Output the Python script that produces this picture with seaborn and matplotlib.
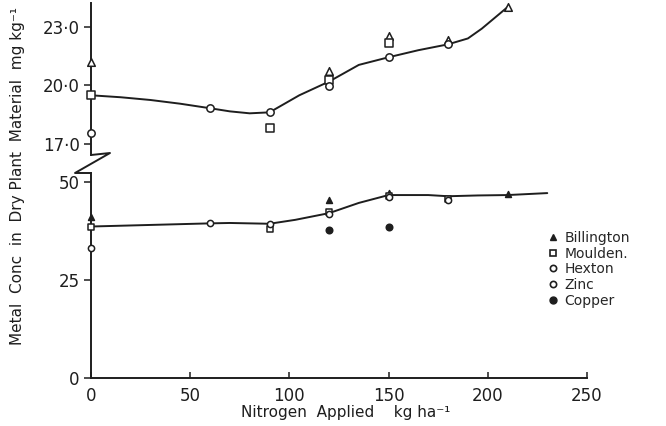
import seaborn as sns
import matplotlib.pyplot as plt
import pandas as pd
from matplotlib.lines import Line2D

# ---- data ----
# upper panel (broken axis, 17-23 scale)
bil_up_x = [0, 120, 150, 180, 210]
bil_up_y = [21.2, 20.75, 22.5, 22.3, 24.0]
mou_up_x = [0, 90, 120, 150]
mou_up_y = [19.5, 17.85, 20.3, 22.15]
hex_up_x = [0, 60, 90, 120, 150, 180]
hex_up_y = [17.6, 18.85, 18.63, 19.95, 21.45, 22.1]
curve_up_x = [0, 15, 30, 45, 60, 70, 80, 90, 105, 120, 135, 150, 165, 180, 190, 197, 210]
curve_up_y = [19.5, 19.4, 19.26, 19.07, 18.84, 18.68, 18.58, 18.63, 19.5, 20.2, 21.05, 21.44, 21.8, 22.1, 22.4, 22.9, 24.0]

# lower panel (0-50 scale)
bil_lo_x = [0, 120, 150, 210]
bil_lo_y = [41.0, 45.4, 47.2, 46.8]
mou_lo_x = [0, 90, 120, 150, 180]
mou_lo_y = [38.6, 38.0, 42.2, 46.4, 45.7]
hex_lo_x = [0, 60, 90, 120, 150, 180]
hex_lo_y = [33.1, 39.4, 39.2, 41.8, 46.0, 45.3]
cop_lo_x = [120, 150]
cop_lo_y = [37.6, 38.6]
curve_lo_x = [0, 60, 70, 90, 103, 120, 135, 150, 170, 180, 195, 210, 230]
curve_lo_y = [38.6, 39.4, 39.5, 39.3, 40.3, 42.0, 44.6, 46.6, 46.6, 46.3, 46.5, 46.6, 47.1]

sns.set_style("ticks")
plt.rcParams['font.family'] = ['DejaVu Sans']
ink = '#1e1e1e'

fig = plt.figure(figsize=(6.66, 4.26), dpi=100)
ax_up = fig.add_axes([0.1366, 0.6362, 0.7447, 0.3568])
ax_lo = fig.add_axes([0.1366, 0.1120, 0.7447, 0.4819])


def draw_panel(ax, cx, cy, sets):
    sns.lineplot(x=cx, y=cy, ax=ax, color=ink, lw=1.4, sort=False, estimator=None, zorder=2)
    for xs, ys, mk, face, size in sets:
        df = pd.DataFrame({'x': xs, 'y': ys})
        sns.scatterplot(data=df, x='x', y='y', ax=ax, marker=mk, s=size,
                        facecolor=face, edgecolor=ink, linewidth=1.1, zorder=3, clip_on=False)


draw_panel(ax_up, curve_up_x, curve_up_y, [
    (bil_up_x, bil_up_y, '^', 'white', 30),
    (mou_up_x, mou_up_y, 's', 'white', 26),
    (hex_up_x, hex_up_y, 'o', 'white', 28),
])
draw_panel(ax_lo, curve_lo_x, curve_lo_y, [
    (bil_lo_x, bil_lo_y, '^', ink, 18),
    (mou_lo_x, mou_lo_y, 's', 'white', 18),
    (hex_lo_x, hex_lo_y, 'o', 'white', 20),
    (cop_lo_x, cop_lo_y, 'o', ink, 22),
])

ax_up.set_xlim(0, 250)
ax_up.set_ylim(16.455, 24.209)
ax_up.set_yticks([17, 20, 23])
ax_up.set_yticklabels(['17·0', '20·0', '23·0'])
ax_up.set_xticks([])
for s in ['top', 'right', 'bottom']:
    ax_up.spines[s].set_visible(False)

ax_lo.set_xlim(0, 250)
ax_lo.set_ylim(0, 52.21)
ax_lo.set_yticks([0, 25, 50])
ax_lo.set_xticks([0, 50, 100, 150, 200, 250])
for s in ['top', 'right']:
    ax_lo.spines[s].set_visible(False)
ax_lo.tick_params(axis='x', direction='in', length=4, pad=6)

for ax in (ax_up, ax_lo):
    ax.set_xlabel('')
    ax.set_ylabel('')
    ax.tick_params(axis='y', direction='out', length=5, pad=3)
    ax.tick_params(labelsize=12, colors=ink, width=1.1)
    for s in ax.spines.values():
        s.set_color(ink)
        s.set_linewidth(1.4)
    ax.patch.set_alpha(0)

# axis break zigzag
fig.add_artist(Line2D([91 / 666, 110 / 666, 75 / 666, 91 / 666],
                      [1 - 155 / 426, 1 - 153 / 426, 1 - 173 / 426, 1 - 173 / 426],
                      transform=fig.transFigure, color=ink, lw=1.4))

fig.text(18 / 666, 1 - 176 / 426, 'Metal  Conc  in  Dry Plant  Material  mg kg⁻¹',
         rotation=90, ha='center', va='center', fontsize=11, color=ink)
fig.text(346 / 666, 1 - 413 / 426, 'Nitrogen  Applied    kg ha⁻¹',
         ha='center', va='center', fontsize=11, color=ink)

handles = [
    Line2D([], [], ls='', marker='^', ms=5, mfc=ink, mec=ink),
    Line2D([], [], ls='', marker='s', ms=5, mfc='white', mec=ink, mew=1.2),
    Line2D([], [], ls='', marker='o', ms=4.5, mfc='white', mec=ink, mew=1.2),
    Line2D([], [], ls='', marker='o', ms=4.5, mfc='white', mec=ink, mew=1.2),
    Line2D([], [], ls='', marker='o', ms=5, mfc=ink, mec=ink),
]
labels = ['Billington', 'Moulden.', 'Hexton', 'Zinc', 'Copper']
fig.legend(handles, labels, loc='upper left', bbox_to_anchor=(541 / 666, 1 - 224 / 426),
           frameon=False, handlelength=0.7, handletextpad=0.5, labelspacing=0.12,
           fontsize=10, borderpad=0)

fig.savefig('out.png', dpi=100)
